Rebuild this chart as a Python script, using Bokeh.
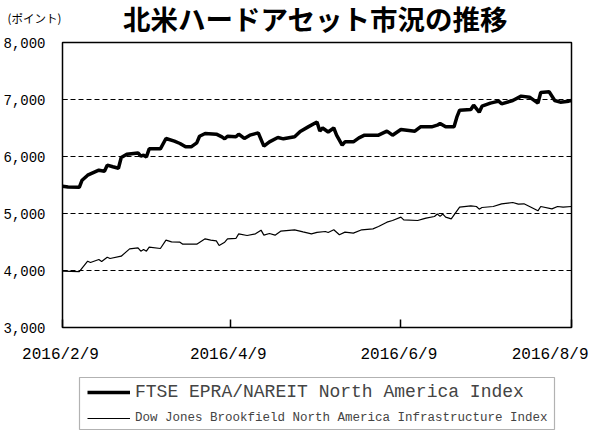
import pandas as pd
from bokeh.plotting import figure
from bokeh.layouts import column
from bokeh.models import (Range1d, FixedTicker, NumeralTickFormatter, Legend, LegendItem,
                          Label, LabelSet, ColumnDataSource, BoxAnnotation)
from bokeh.core.properties import field, value
from bokeh.embed import file_html
from bokeh.resources import INLINE

# ---------------- data ----------------
title_text = "北米ハードアセット市況の推移"
unit_text = "(ポイント)"
series_names = ["FTSE EPRA/NAREIT North America Index",
                "Dow Jones Brookfield North America Infrastructure Index"]

ftse_dates = ["2016-02-09", "2016-02-11", "2016-02-15", "2016-02-16", "2016-02-18", "2016-02-22",
              "2016-02-24", "2016-02-25", "2016-02-27", "2016-02-29", "2016-03-01", "2016-03-03",
              "2016-03-07", "2016-03-08", "2016-03-09", "2016-03-10", "2016-03-11", "2016-03-15",
              "2016-03-17", "2016-03-20", "2016-03-22", "2016-03-24", "2016-03-26", "2016-03-28",
              "2016-03-29", "2016-03-31", "2016-04-04", "2016-04-06", "2016-04-07", "2016-04-08",
              "2016-04-11", "2016-04-12", "2016-04-14", "2016-04-16", "2016-04-19", "2016-04-21",
              "2016-04-23", "2016-04-26", "2016-04-28", "2016-05-02", "2016-05-04", "2016-05-07",
              "2016-05-10", "2016-05-11", "2016-05-12", "2016-05-14", "2016-05-16", "2016-05-17",
              "2016-05-19", "2016-05-20", "2016-05-23", "2016-05-25", "2016-05-27", "2016-06-01",
              "2016-06-04", "2016-06-06", "2016-06-09", "2016-06-14", "2016-06-16", "2016-06-20",
              "2016-06-22", "2016-06-23", "2016-06-25", "2016-06-28", "2016-06-29", "2016-06-30",
              "2016-07-04", "2016-07-05", "2016-07-07", "2016-07-08", "2016-07-11", "2016-07-14",
              "2016-07-15", "2016-07-19", "2016-07-22", "2016-07-25", "2016-07-28", "2016-07-29",
              "2016-08-01", "2016-08-03", "2016-08-05", "2016-08-08", "2016-08-09"]
ftse_values = [5479, 5465, 5460, 5584, 5672, 5760,
               5742, 5848, 5820, 5795, 5983, 6040,
               6063, 6005, 6023, 5993, 6134, 6134,
               6316, 6269, 6228, 6169, 6169, 6239,
               6356, 6403, 6392, 6345, 6310, 6356,
               6345, 6392, 6316, 6374, 6415, 6181,
               6257, 6333, 6310, 6345, 6440, 6524,
               6605, 6446, 6500, 6430, 6500, 6374,
               6198, 6257, 6257, 6327, 6374, 6374,
               6444, 6374, 6474, 6444, 6520, 6520,
               6550, 6580, 6520, 6520, 6690, 6813,
               6825, 6900, 6778, 6883, 6936, 6971,
               6924, 6983, 7059, 7041, 6936, 7123,
               7135, 6983, 6953, 6971, 6983]

dj_dates = ["2016-02-09", "2016-02-15", "2016-02-18", "2016-02-19", "2016-02-22", "2016-02-23",
            "2016-02-25", "2016-02-26", "2016-03-01", "2016-03-04", "2016-03-07", "2016-03-08",
            "2016-03-09", "2016-03-10", "2016-03-11", "2016-03-15", "2016-03-17", "2016-03-19",
            "2016-03-22", "2016-03-23", "2016-03-28", "2016-03-31", "2016-04-02", "2016-04-04",
            "2016-04-05", "2016-04-07", "2016-04-08", "2016-04-11", "2016-04-12", "2016-04-15",
            "2016-04-18", "2016-04-20", "2016-04-21", "2016-04-23", "2016-04-25", "2016-04-27",
            "2016-05-02", "2016-05-05", "2016-05-08", "2016-05-10", "2016-05-13", "2016-05-14",
            "2016-05-16", "2016-05-18", "2016-05-20", "2016-05-23", "2016-05-26", "2016-05-30",
            "2016-06-01", "2016-06-04", "2016-06-06", "2016-06-09", "2016-06-10", "2016-06-15",
            "2016-06-17", "2016-06-18", "2016-06-21", "2016-06-22", "2016-06-23", "2016-06-24",
            "2016-06-25", "2016-06-27", "2016-06-30", "2016-07-04", "2016-07-06", "2016-07-07",
            "2016-07-08", "2016-07-12", "2016-07-15", "2016-07-19", "2016-07-21", "2016-07-23",
            "2016-07-25", "2016-07-28", "2016-07-29", "2016-08-02", "2016-08-04", "2016-08-06",
            "2016-08-09"]
dj_values = [3988, 3980, 4163, 4140, 4193, 4158,
             4233, 4210, 4251, 4380, 4398, 4339,
             4368, 4339, 4409, 4386, 4532, 4503,
             4497, 4462, 4462, 4556, 4532, 4520,
             4439, 4497, 4556, 4562, 4643, 4614,
             4643, 4708, 4620, 4649, 4620, 4690,
             4714, 4678, 4643, 4670, 4684, 4667,
             4714, 4626, 4673, 4655, 4714, 4731,
             4772, 4848, 4877, 4936, 4889, 4877,
             4906, 4918, 4947, 4990, 4950, 4990,
             4936, 4906, 5111, 5135, 5123, 5076,
             5105, 5123, 5170, 5193, 5164, 5170,
             5123, 5047, 5123, 5082, 5123, 5111,
             5123]

y_ticks = [3000, 4000, 5000, 6000, 7000, 8000]
x_tick_dates = ["2016-02-09", "2016-04-09", "2016-06-09", "2016-08-09"]
x_tick_labels = ["2016/2/9", "2016/4/9", "2016/6/9", "2016/8/9"]

# ---------------- layout constants ----------------
MONO = "Liberation Mono"
JP = "Noto Sans CJK JP"
W = 589
TOP_H = 34
BL, BR, BT, BB = 62, 18, 8, 10      # main figure borders
FRAME_H = 285
MAIN_H = BT + FRAME_H + BB
BOT_H = 432 - TOP_H - MAIN_H
FRAME_W = W - BL - BR


def ms(d):
    return int(pd.Timestamp(d).value // 10**6)


def no_frame_align(fig):
    try:
        fig.frame_align = False
    except Exception:
        pass


x_start, x_end = ms(x_tick_dates[0]), ms(x_tick_dates[-1])

# ---------------- top strip: title and unit ----------------
pt = figure(width=W, height=TOP_H, output_backend="svg", toolbar_location=None,
            x_axis_location=None, y_axis_location=None,
            x_range=Range1d(0, 1), y_range=Range1d(0, 1),
            min_border_left=0, min_border_right=0, min_border_top=0, min_border_bottom=0)
pt.outline_line_color = None
pt.grid.visible = False
no_frame_align(pt)
pt.add_layout(Label(x=315, y=TOP_H - 17, x_units="screen", y_units="screen",
                    text=title_text, text_align="center", text_baseline="middle",
                    text_font=JP, text_font_size="27.5px", text_font_style="bold",
                    text_color="black"))
pt.add_layout(Label(x=7, y=TOP_H - 17, x_units="screen", y_units="screen", text=unit_text,
                    text_align="left", text_baseline="middle", text_font=JP,
                    text_font_size="11.5px", text_color="black"))

# ---------------- main chart ----------------
p = figure(width=W, height=MAIN_H, output_backend="svg", toolbar_location=None,
           x_axis_type="datetime",
           x_range=Range1d(x_start, x_end), y_range=Range1d(y_ticks[0], y_ticks[-1]),
           min_border_left=BL, min_border_right=BR, min_border_top=BT, min_border_bottom=BB)
p.background_fill_color = "white"
p.border_fill_color = "white"
p.outline_line_color = "black"
p.outline_line_width = 1.5
no_frame_align(p)

src_ftse = ColumnDataSource(dict(x=pd.to_datetime(ftse_dates), y=ftse_values))
src_dj = ColumnDataSource(dict(x=pd.to_datetime(dj_dates), y=dj_values))
p.line("x", "y", source=src_ftse, line_color="black", line_width=3.5)
p.line("x", "y", source=src_dj, line_color="black", line_width=1.2)

p.yaxis.ticker = FixedTicker(ticks=y_ticks)
p.yaxis.formatter = NumeralTickFormatter(format="0,0")
p.yaxis.major_label_text_font = MONO
p.yaxis.major_label_text_font_size = "14px"
p.yaxis.major_label_text_color = "black"
p.yaxis.major_label_standoff = 17
p.yaxis.major_tick_in = 5
p.yaxis.major_tick_out = 0
p.yaxis.minor_tick_line_color = None
p.yaxis.axis_line_color = "black"
p.yaxis.major_tick_line_color = "black"

p.ygrid.ticker = FixedTicker(ticks=y_ticks[1:-1])
p.ygrid.grid_line_color = "black"
p.ygrid.grid_line_dash = "5 3"
p.ygrid.grid_line_width = 1
p.xgrid.visible = False

tick_ms = [ms(d) for d in x_tick_dates]
p.xaxis.ticker = FixedTicker(ticks=tick_ms)
p.xaxis.major_label_overrides = {t: "" for t in tick_ms}
p.xaxis.major_tick_in = 8
p.xaxis.major_tick_out = 0
p.xaxis.major_label_standoff = 0
p.xaxis.minor_tick_line_color = None
p.xaxis.axis_line_color = "black"
p.xaxis.major_tick_line_color = "black"
p.xaxis.major_tick_line_width = 1.5

# ---------------- bottom strip: x tick labels and legend ----------------
# same time scale as the main frame, widened to the full strip width
ms_per_px = (x_end - x_start) / FRAME_W
pb = figure(width=W, height=BOT_H, output_backend="svg", toolbar_location=None,
            x_axis_location=None, y_axis_location=None,
            x_range=Range1d(x_start - BL * ms_per_px, x_end + BR * ms_per_px),
            y_range=Range1d(0, BOT_H),
            min_border_left=0, min_border_right=0, min_border_top=0, min_border_bottom=0)
pb.outline_line_color = None
pb.grid.visible = False
no_frame_align(pb)

n = len(x_tick_labels)
tick_src = ColumnDataSource(dict(
    x=tick_ms,
    text=x_tick_labels,
    align=["center"] * (n - 1) + ["right"],
    xoff=[-2] * (n - 1) + [17],
))
pb.add_layout(LabelSet(x="x", y=BOT_H - 8, y_units="screen", text="text", source=tick_src,
                       x_offset=field("xoff"), text_align=field("align"),
                       text_baseline=value("top"), text_font=value(MONO),
                       text_font_size=value("16px"), text_color=value("black")))

# legend entry glyphs (no visible data, styled like the series)
nan = float("nan")
g1 = pb.line(x=[nan, nan], y=[nan, nan], line_color="black", line_width=3.5)
g2 = pb.line(x=[nan, nan], y=[nan, nan], line_color="black", line_width=1.2)

pb.add_layout(BoxAnnotation(left=79, right=554, top=BOT_H - 40, bottom=3,
                            left_units="screen", right_units="screen",
                            top_units="screen", bottom_units="screen",
                            fill_alpha=0, fill_color=None, line_color="black", line_width=1.2))

legA = Legend(items=[LegendItem(label=series_names[0], renderers=[g1])], location=(87, 30),
              label_text_font=MONO, label_text_font_size="18px", glyph_width=43, glyph_height=20,
              label_height=20, label_standoff=5, padding=0, margin=0, spacing=0,
              border_line_color=None, background_fill_alpha=0)
legB = Legend(items=[LegendItem(label=series_names[1], renderers=[g2])], location=(87, 6),
              label_text_font=MONO, label_text_font_size="12.5px", glyph_width=43, glyph_height=16,
              label_height=16, label_standoff=5, padding=0, margin=0, spacing=0,
              border_line_color=None, background_fill_alpha=0)
pb.add_layout(legA)
pb.add_layout(legB)

layout = column(pt, p, pb, spacing=0)
open("out.html", "w").write(file_html(layout, INLINE))
